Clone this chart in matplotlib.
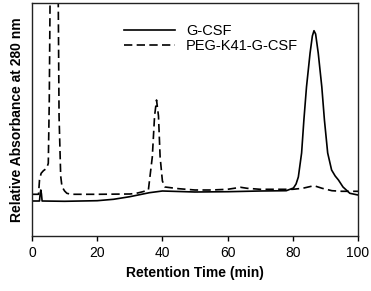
import matplotlib
matplotlib.use("Agg")
import matplotlib.pyplot as plt
import numpy as np

plt.rcParams['font.family'] = ['Liberation Sans', 'DejaVu Sans']

# G-CSF (solid)
gcsf_x = [0, 2.3, 2.5, 2.7, 2.9, 3.1, 10, 20, 25, 30, 33, 36, 40, 50, 60, 70, 78, 80.2, 81, 81.7, 82.7, 83.4,
          84.2, 85.3, 86, 86.5, 87, 87.8, 88.9, 89.7, 90.7, 91.9, 93, 94, 95.4, 97.5, 100]
gcsf_y = [35, 35, 42, 46, 42, 35, 34.7, 35.3, 36.7, 39.3, 41.3, 43.3, 45, 44, 44.3, 45, 45.3, 48, 52, 59,
          83, 116, 149, 183, 200, 205.3, 202, 183, 149, 116, 83, 66, 60, 56, 49, 42.7, 41]

# PEG-K41-G-CSF (dashed)
peg_x = [0, 2.0, 2.3, 2.8, 3.5, 4.5, 5.0, 5.3, 5.6, 6.8, 8.0, 8.3, 8.8, 9.2, 10, 10.7, 12, 20, 30, 32, 34,
         35.7, 36.9, 37.6, 38.2, 38.8, 39.3, 40, 40.8, 45, 50, 55, 60, 64, 66, 70, 80, 83, 86.5, 89, 92, 95, 100]
peg_y = [41.7, 41.7, 56, 62.7, 65.3, 67.7, 72.7, 136, 260, 320, 260, 120, 60, 49.3, 45, 42.7, 41.7, 41.7, 42,
         42.7, 44.3, 46, 79, 120, 136, 120, 79, 55, 49, 47.3, 46, 46, 46.7, 48.7, 47.7, 46.7, 46.7, 47.7,
         50.3, 47.7, 45.3, 44.7, 44.7]

xticks = [0, 20, 40, 60, 80, 100]

fig = plt.figure(figsize=(3.71, 2.91), dpi=100)
ax = fig.add_axes([32/371, 1-236/291, 326/371, 233/291])

ax.plot(gcsf_x, gcsf_y, color='black', lw=1.2, label='G-CSF')
ax.plot(peg_x, peg_y, color='black', lw=1.2, dashes=(5, 2.6), label='PEG-K41-G-CSF')

ax.set_xlim(0, 100)
ax.set_ylim(0, 233)
ax.set_xticks(xticks)
ax.set_yticks([])
ax.tick_params(axis='x', direction='out', length=3.5, width=1, labelsize=10, pad=4)
for s in ax.spines.values():
    s.set_linewidth(1.0)
    s.set_color('#222222')

ax.set_xlabel('Retention Time (min)', fontsize=10, fontweight='bold', labelpad=4)
ax.set_ylabel('Relative Absorbance at 280 nm', fontsize=10, fontweight='bold', labelpad=6)

leg = ax.legend(loc='upper left', bbox_to_anchor=(0.265, 0.935), frameon=False, fontsize=10.5,
                handlelength=3.5, handletextpad=0.75, labelspacing=0.1, borderaxespad=0)

fig.savefig('out.png', dpi=100)
